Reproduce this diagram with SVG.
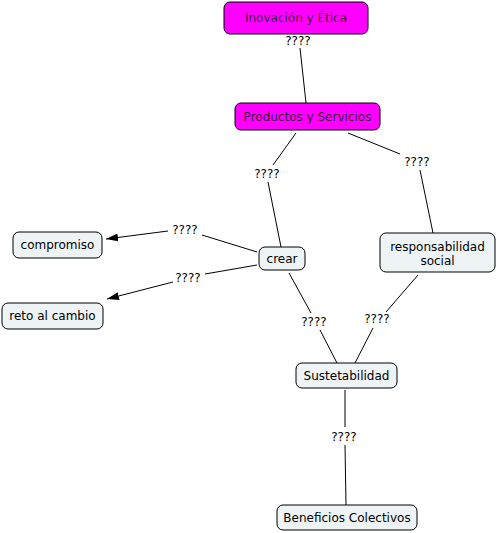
<svg xmlns="http://www.w3.org/2000/svg" width="497" height="533" viewBox="0 0 497 533">
<style>
.n rect{fill:#eef3f6;stroke:#000;stroke-width:1}
.n.m rect{fill:#ff00ff}
.n text{font-family:"DejaVu Sans",Verdana,sans-serif;font-size:12px;fill:#000;text-anchor:middle}
.n.m text{fill:#3a1a3a}
.c line{stroke:#000;stroke-width:1}
.c text{font-family:"DejaVu Sans",Verdana,sans-serif;font-size:12px;fill:#000;text-anchor:middle}
</style>
<defs>
<marker id="a" markerWidth="12" markerHeight="8" refX="12" refY="4" orient="auto" markerUnits="userSpaceOnUse">
<path d="M0,0 L12,4 L0,8 Z" fill="#000"/>
</marker>
</defs>
<rect width="497" height="533" fill="#fff"/>
<g class="c" id="connectors">
<line x1="300" y1="48" x2="306" y2="103"/>
<text x="298" y="45">????</text>
<line x1="296" y1="133" x2="273" y2="165"/>
<text x="267" y="178">????</text>
<line x1="268" y1="182" x2="281" y2="247"/>
<line x1="348" y1="133" x2="400" y2="154"/>
<text x="417" y="166">????</text>
<line x1="420" y1="170" x2="433" y2="233"/>
<line x1="257" y1="252" x2="202" y2="235"/>
<text x="185" y="234">????</text>
<line x1="168" y1="231" x2="106" y2="239" marker-end="url(#a)"/>
<line x1="257" y1="265" x2="205" y2="274"/>
<text x="188" y="282">????</text>
<line x1="173" y1="282" x2="107" y2="299" marker-end="url(#a)"/>
<line x1="289" y1="273" x2="311" y2="313"/>
<text x="314" y="326">????</text>
<line x1="320" y1="330" x2="337" y2="363"/>
<line x1="418" y1="275" x2="386" y2="312"/>
<text x="377" y="323">????</text>
<line x1="373" y1="328" x2="355" y2="363"/>
<line x1="345" y1="390" x2="345" y2="427"/>
<text x="344" y="441">????</text>
<line x1="345" y1="445" x2="346" y2="505"/>
</g>
<g class="n m" id="n1"><rect x="224" y="2" width="144" height="32" rx="6"/><text x="296" y="22">Inovación y Ética</text></g>
<g class="n m" id="n2"><rect x="235" y="103" width="145" height="27" rx="6"/><text x="307.5" y="120.5">Productos y Servicios</text></g>
<g class="n" id="n3"><rect x="13" y="232" width="89" height="26" rx="6"/><text x="57.5" y="249">compromiso</text></g>
<g class="n" id="n4"><rect x="2" y="303" width="101" height="26" rx="6"/><text x="52.5" y="320">reto al cambio</text></g>
<g class="n" id="n5"><rect x="259" y="247" width="46" height="23" rx="6"/><text x="282" y="262.5">crear</text></g>
<g class="n" id="n6"><rect x="380" y="233" width="115" height="39" rx="6"/><text x="437.5" y="251">responsabilidad</text><text x="437.5" y="265">social</text></g>
<g class="n" id="n7"><rect x="296" y="363" width="101" height="25" rx="6"/><text x="346.5" y="379.5">Sustetabilidad</text></g>
<g class="n" id="n8"><rect x="277" y="505" width="140" height="25" rx="6"/><text x="347" y="521.5">Beneficios Colectivos</text></g>
</svg>
